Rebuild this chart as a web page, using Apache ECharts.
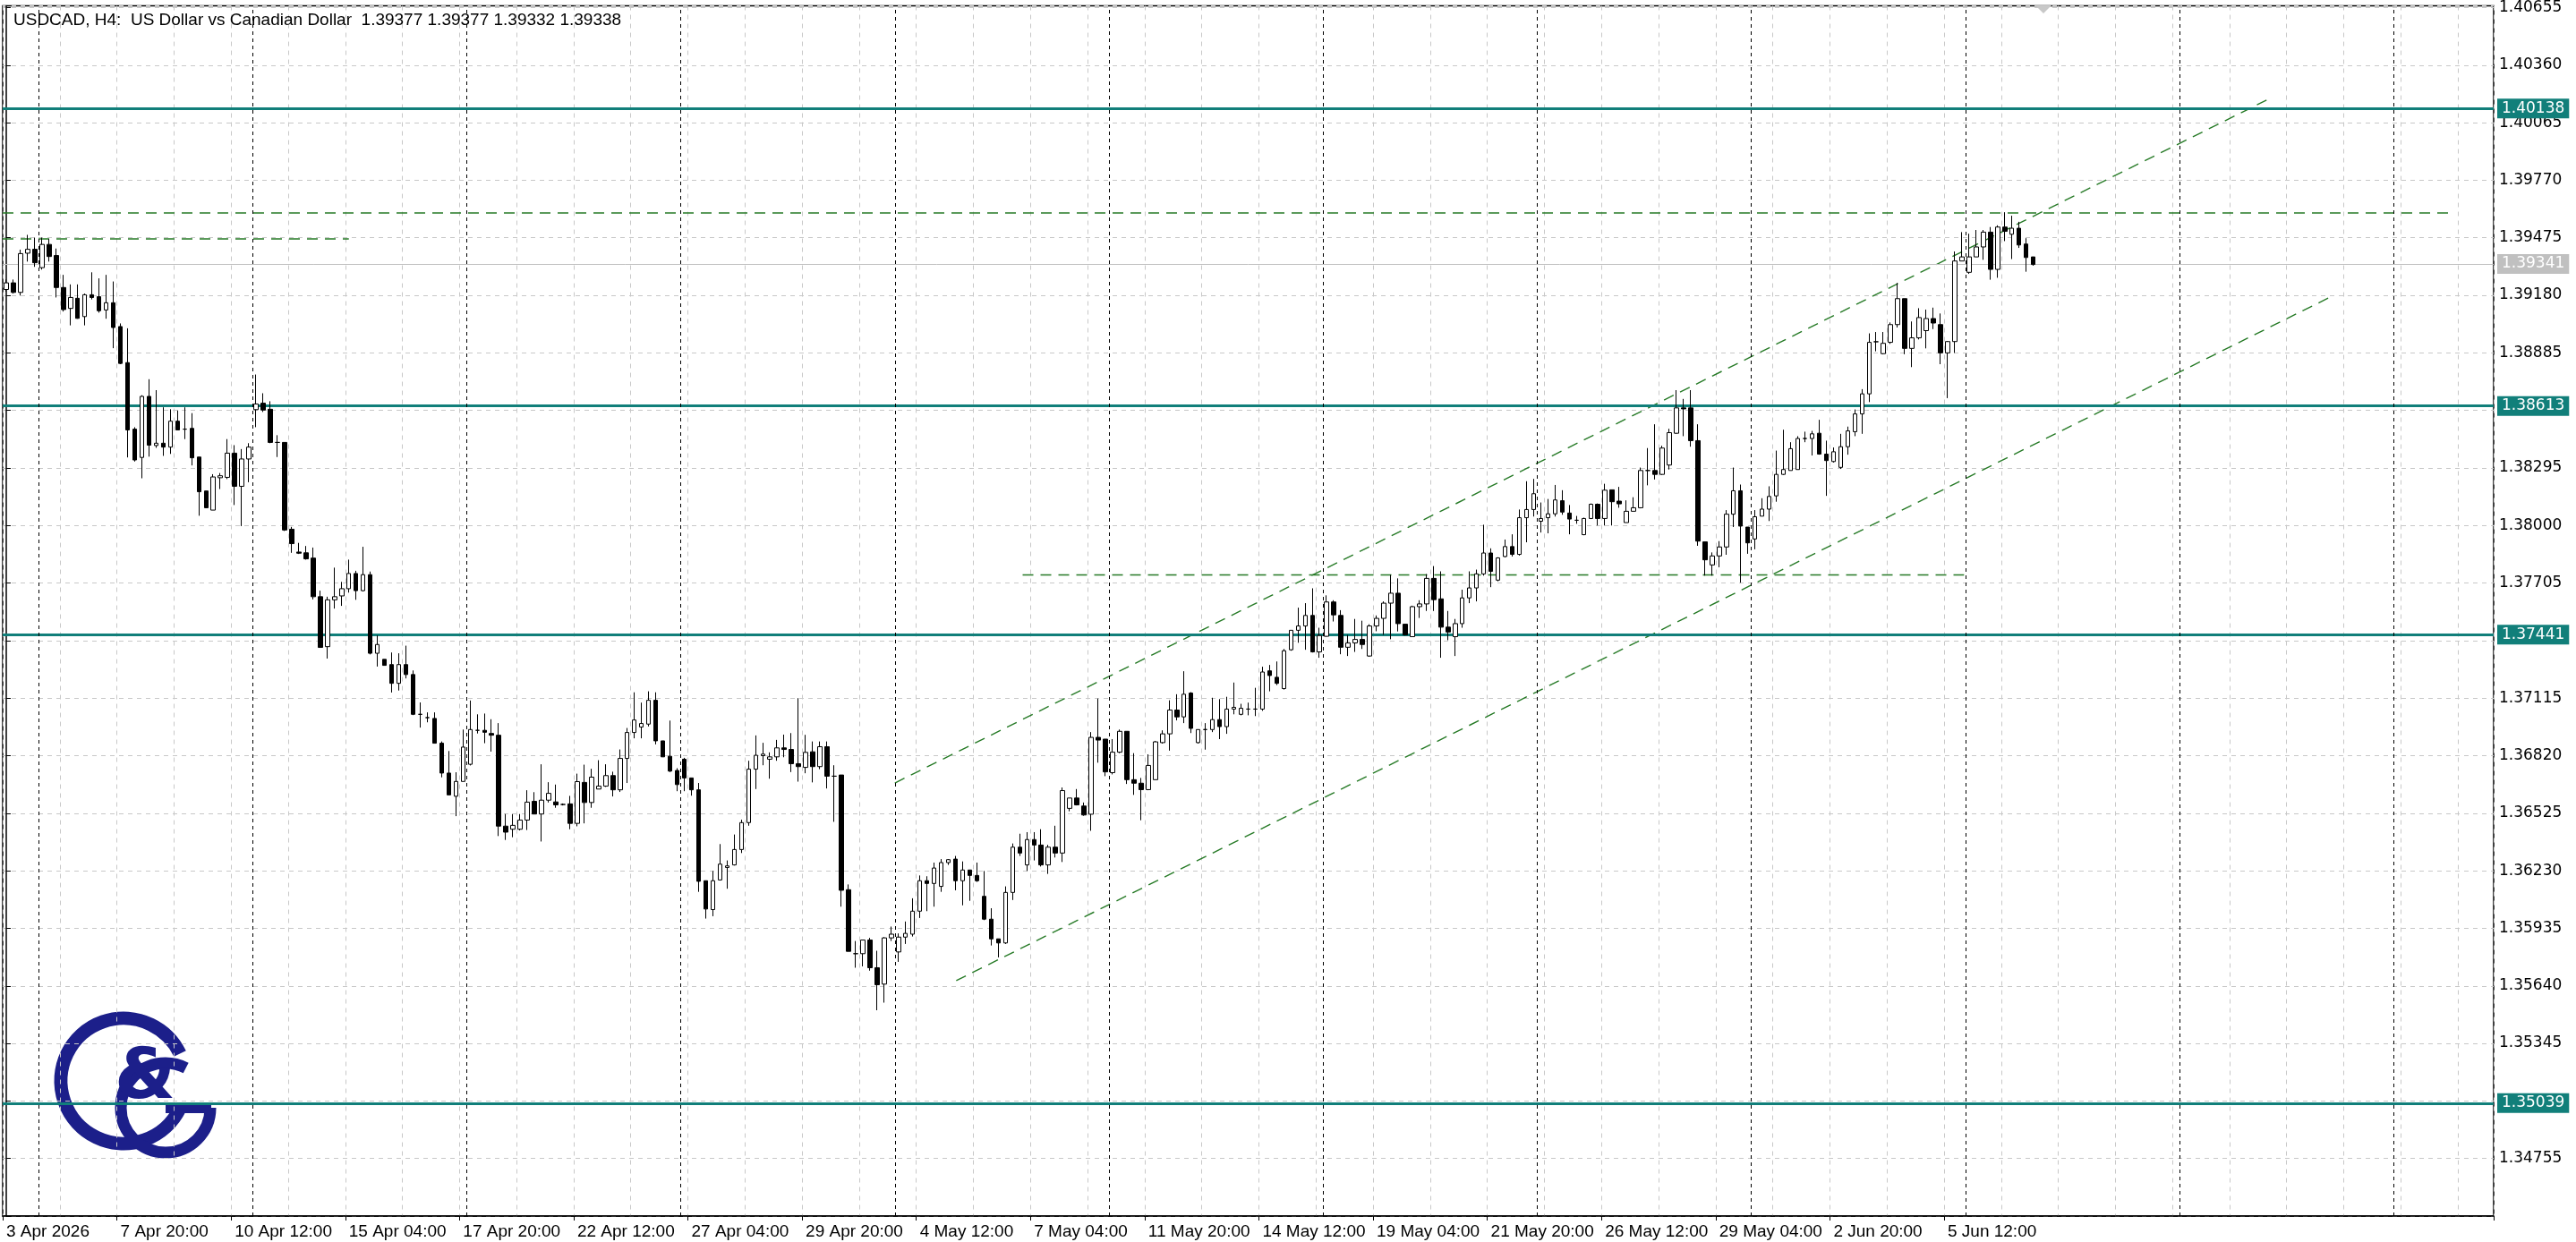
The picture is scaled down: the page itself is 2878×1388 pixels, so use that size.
<!DOCTYPE html>
<html>
<head>
<meta charset="utf-8">
<script src="https://cdn.jsdelivr.net/npm/echarts@6/dist/echarts.min.js"></script>
<style>
html,body{margin:0;padding:0;background:#fff;}
#chart{width:2878px;height:1388px;}
</style>
</head>
<body>
<div id="chart"></div>
<script>
// USDCAD H4 candles, [open, close, low, high]
var barsA = [
[1.39210,1.39244,1.39199,1.39261],[1.39244,1.39195,1.39189,1.39261],[1.39195,1.39394,1.39179,1.39414],[1.39396,1.39416,1.39353,1.39490],
[1.39416,1.39347,1.39326,1.39476],[1.39322,1.39441,1.39312,1.39476],[1.39441,1.39379,1.39353,1.39469],[1.39384,1.39220,1.39169,1.39420],
[1.39220,1.39107,1.39097,1.39285],[1.39113,1.39169,1.39026,1.39236],[1.39165,1.39062,1.39060,1.39236],[1.39071,1.39183,1.39026,1.39189],
[1.39183,1.39169,1.39159,1.39298],[1.39173,1.39101,1.39091,1.39267],[1.39105,1.39142,1.39060,1.39285],[1.39142,1.39015,1.38909,1.39251],
[1.39020,1.38831,1.38827,1.39036],[1.38835,1.38490,1.38349,1.39011],[1.38494,1.38336,1.38328,1.38504],[1.38349,1.38662,1.38242,1.38668],
[1.38662,1.38412,1.38353,1.38750],[1.38410,1.38422,1.38398,1.38694],[1.38422,1.38402,1.38357,1.38606],[1.38402,1.38535,1.38367,1.38596],
[1.38535,1.38490,1.38490,1.38590],[1.38494,1.38494,1.38443,1.38606],[1.38498,1.38347,1.38308,1.38576],[1.38351,1.38173,1.38050,1.38351],
[1.38177,1.38091,1.38091,1.38177],[1.38079,1.38249,1.38079,1.38263],[1.38245,1.38255,1.38187,1.38269],[1.38247,1.38371,1.38238,1.38443],
[1.38371,1.38201,1.38105,1.38412],[1.38201,1.38341,1.37997,1.38392],[1.38341,1.38402,1.38222,1.38422],[1.38594,1.38623,1.38504,1.38774],
[1.38627,1.38592,1.38582,1.38678],[1.38596,1.38426,1.38422,1.38637],[1.38426,1.38426,1.38351,1.38463],[1.38426,1.37977,1.37972,1.38426],
[1.37981,1.37907,1.37860,1.37993],[1.37864,1.37858,1.37854,1.37911],[1.37860,1.37829,1.37825,1.37895],[1.37833,1.37635,1.37621,1.37887],
[1.37635,1.37375,1.37375,1.37666],[1.37379,1.37619,1.37318,1.37635],[1.37619,1.37635,1.37574,1.37784],[1.37639,1.37676,1.37588,1.37711],
[1.37676,1.37754,1.37656,1.37825],[1.37754,1.37666,1.37619,1.37768],[1.37666,1.37748,1.37662,1.37891],[1.37748,1.37345,1.37339,1.37764],
[1.37345,1.37390,1.37277,1.37437],[1.37314,1.37283,1.37283,1.37314],[1.37287,1.37191,1.37144,1.37349],[1.37191,1.37287,1.37154,1.37345],
[1.37287,1.37236,1.37216,1.37384],[1.37236,1.37032,1.37028,1.37257],[1.37032,1.37032,1.36964,1.37093],[1.37015,1.37015,1.36991,1.37042],
[1.37011,1.36884,1.36884,1.37042],[1.36884,1.36731,1.36709,1.36893],[1.36731,1.36619,1.36619,1.36844],[1.36612,1.36688,1.36510,1.36735],
[1.36688,1.36864,1.36688,1.36954],[1.36776,1.36954,1.36770,1.37103],[1.36950,1.36950,1.36934,1.37032],[1.36950,1.36940,1.36884,1.37036],
[1.36934,1.36925,1.36841,1.37007],[1.36925,1.36459,1.36408,1.36987],[1.36459,1.36428,1.36388,1.36521],[1.36443,1.36463,1.36402,1.36521],
[1.36443,1.36490,1.36437,1.36521],[1.36490,1.36582,1.36439,1.36643],[1.36586,1.36521,1.36521,1.36633],[1.36521,1.36592,1.36380,1.36776]
];
var barsB = [
[1.36592,1.36627,1.36580,1.36684],[1.36583,1.36568,1.36553,1.36672],[1.36570,1.36570,1.36565,1.36575],[1.36573,1.36473,1.36443,1.36614],
[1.36473,1.36687,1.36458,1.36728],[1.36683,1.36580,1.36473,1.36774],[1.36580,1.36710,1.36553,1.36753],[1.36649,1.36664,1.36649,1.36797],
[1.36664,1.36718,1.36660,1.36776],[1.36718,1.36645,1.36611,1.36738],[1.36645,1.36806,1.36634,1.36852],[1.36806,1.36939,1.36680,1.36962],
[1.36939,1.37003,1.36909,1.37145],[1.36967,1.36985,1.36909,1.37092],[1.36982,1.37104,1.36970,1.37150],[1.37104,1.36896,1.36878,1.37145],
[1.36896,1.36814,1.36814,1.36896],[1.36817,1.36741,1.36736,1.37000],[1.36744,1.36672,1.36638,1.36756],[1.36802,1.36706,1.36638,1.36809],
[1.36706,1.36645,1.36615,1.36706],[1.36645,1.36176,1.36122,1.36680],[1.36179,1.36034,1.35985,1.36179],[1.36031,1.36179,1.35997,1.36229],
[1.36183,1.36264,1.36180,1.36367],[1.36247,1.36255,1.36138,1.36283],[1.36260,1.36339,1.36257,1.36416],[1.36339,1.36477,1.36321,1.36492],
[1.36477,1.36751,1.36461,1.36794],[1.36751,1.36822,1.36649,1.36924],[1.36820,1.36828,1.36771,1.36886],[1.36802,1.36814,1.36702,1.36837],
[1.36814,1.36860,1.36794,1.36901],[1.36860,1.36852,1.36812,1.36928],[1.36852,1.36779,1.36736,1.36936],[1.36779,1.36764,1.36687,1.37115],
[1.36760,1.36837,1.36730,1.36927],[1.36840,1.36764,1.36683,1.36893],[1.36764,1.36866,1.36751,1.36893],[1.36866,1.36715,1.36652,1.36893],
[1.36715,1.36715,1.36481,1.36771],[1.36721,1.36130,1.36046,1.36721],[1.36133,1.35817,1.35817,1.36160],[1.35805,1.35805,1.35733,1.35870],
[1.35805,1.35875,1.35740,1.35875],[1.35875,1.35733,1.35718,1.35886],[1.35733,1.35646,1.35515,1.35820],[1.35649,1.35886,1.35554,1.35890],
[1.35886,1.35905,1.35870,1.35944],[1.35814,1.35890,1.35763,1.35909],[1.35890,1.35909,1.35855,1.35970],[1.35905,1.36023,1.35893,1.36089],
[1.36023,1.36179,1.35988,1.36206],[1.36179,1.36165,1.36023,1.36202],[1.36165,1.36244,1.36046,1.36272],[1.36150,1.36272,1.36122,1.36290],
[1.36272,1.36287,1.36260,1.36290],[1.36290,1.36179,1.36130,1.36306],[1.36179,1.36234,1.36053,1.36278],[1.36234,1.36206,1.36076,1.36234],
[1.36206,1.36179,1.36173,1.36272],[1.36099,1.35982,1.35977,1.36229],[1.35982,1.35881,1.35847,1.36038],[1.35881,1.35860,1.35786,1.35881],
[1.35860,1.36119,1.35855,1.36150],[1.36119,1.36351,1.36080,1.36370],[1.36351,1.36321,1.36306,1.36420],[1.36260,1.36390,1.36229,1.36428],
[1.36390,1.36362,1.36283,1.36428],[1.36362,1.36260,1.36252,1.36443],[1.36260,1.36351,1.36214,1.36363],[1.36351,1.36321,1.36298,1.36461],
[1.36321,1.36641,1.36275,1.36657],[1.36550,1.36603,1.36535,1.36603],[1.36603,1.36568,1.36565,1.36649],[1.36562,1.36516,1.36512,1.36580]
];
var barsC = [
[1.36520,1.36914,1.36435,1.36941],[1.36914,1.36900,1.36784,1.37113],[1.36905,1.36737,1.36715,1.36905],[1.36733,1.36838,1.36724,1.36905],
[1.36838,1.36945,1.36833,1.36954],[1.36945,1.36697,1.36675,1.36945],[1.36697,1.36679,1.36619,1.36833],[1.36679,1.36646,1.36489,1.36706],
[1.36646,1.36770,1.36643,1.36827],[1.36697,1.36891,1.36697,1.36896],[1.36887,1.36932,1.36882,1.36950],[1.36932,1.37054,1.36846,1.37104],
[1.37054,1.37019,1.37001,1.37135],[1.37019,1.37135,1.36987,1.37253],[1.37141,1.36960,1.36936,1.37146],[1.36887,1.36954,1.36882,1.36954],
[1.36954,1.36954,1.36851,1.36987],[1.36954,1.37005,1.36941,1.37117],[1.37005,1.36969,1.36905,1.37110],[1.36969,1.37059,1.36932,1.37122],
[1.37059,1.37068,1.37032,1.37195],[1.37032,1.37063,1.37027,1.37086],[1.37059,1.37059,1.37027,1.37092],[1.37059,1.37059,1.37023,1.37168],
[1.37059,1.37249,1.37050,1.37276],[1.37255,1.37231,1.37150,1.37285],[1.37222,1.37191,1.37182,1.37303],[1.37164,1.37358,1.37159,1.37367],
[1.37363,1.37463,1.37358,1.37463],[1.37463,1.37485,1.37399,1.37579],[1.37485,1.37539,1.37363,1.37602],[1.37539,1.37352,1.37349,1.37678],
[1.37352,1.37436,1.37322,1.37476],[1.37432,1.37608,1.37430,1.37642],[1.37608,1.37542,1.37508,1.37617],[1.37539,1.37376,1.37340,1.37566],
[1.37376,1.37398,1.37331,1.37439],[1.37398,1.37416,1.37352,1.37521],[1.37416,1.37390,1.37367,1.37512],[1.37331,1.37485,1.37327,1.37494],
[1.37485,1.37524,1.37458,1.37539],[1.37524,1.37602,1.37439,1.37611],[1.37602,1.37653,1.37417,1.37747],[1.37653,1.37497,1.37457,1.37729],
[1.37494,1.37439,1.37436,1.37494],[1.37430,1.37584,1.37430,1.37589],[1.37584,1.37598,1.37526,1.37617],[1.37598,1.37729,1.37562,1.37751],
[1.37729,1.37620,1.37562,1.37792],[1.37624,1.37479,1.37322,1.37765],[1.37479,1.37454,1.37412,1.37562],[1.37430,1.37497,1.37331,1.37521],
[1.37497,1.37629,1.37476,1.37671],[1.37629,1.37680,1.37602,1.37765],[1.37680,1.37752,1.37611,1.37774],[1.37752,1.37859,1.37743,1.38004],
[1.37859,1.37765,1.37684,1.37883],[1.37720,1.37834,1.37714,1.37837],[1.37841,1.37892,1.37837,1.37928],[1.37892,1.37852,1.37841,1.37955],
[1.37852,1.38040,1.37846,1.38082],[1.38040,1.38082,1.37914,1.38227],[1.38082,1.38163,1.38046,1.38239],[1.38022,1.38036,1.37964,1.38118],
[1.38040,1.38060,1.37960,1.38136],[1.38060,1.38131,1.38046,1.38208],[1.38127,1.38069,1.38055,1.38181],[1.38064,1.38033,1.37955,1.38105],
[1.38027,1.38027,1.38009,1.38049],[1.37953,1.38036,1.37950,1.38040],[1.38036,1.38109,1.38033,1.38113],[1.38109,1.38036,1.38000,1.38113],
[1.38036,1.38181,1.38000,1.38214]
];
var barsD = [
[1.38183,1.38122,1.38000,1.38183],[1.38125,1.38111,1.38091,1.38198],[1.38015,1.38073,1.38015,1.38129],[1.38073,1.38091,1.38073,1.38145],
[1.38091,1.38282,1.38088,1.38297],[1.38282,1.38282,1.38206,1.38397],[1.38282,1.38262,1.38236,1.38519],[1.38262,1.38397,1.38259,1.38409],
[1.38310,1.38476,1.38287,1.38496],[1.38473,1.38603,1.38470,1.38694],[1.38603,1.38598,1.38458,1.38649],[1.38603,1.38435,1.38404,1.38694],
[1.38435,1.37920,1.37896,1.38519],[1.37916,1.37824,1.37743,1.37916],[1.37798,1.37844,1.37743,1.37862],[1.37844,1.37890,1.37786,1.37920],
[1.37890,1.38058,1.37850,1.38079],[1.38058,1.38178,1.37992,1.38297],[1.38178,1.37997,1.37707,1.38210],[1.37992,1.37911,1.37855,1.37992],
[1.37931,1.38045,1.37878,1.38079],[1.38048,1.38084,1.38048,1.38140],[1.38084,1.38149,1.38023,1.38201],[1.38152,1.38262,1.38122,1.38384],
[1.38262,1.38287,1.38259,1.38491],[1.38282,1.38394,1.38282,1.38427],[1.38287,1.38446,1.38287,1.38458],[1.38446,1.38446,1.38427,1.38481],
[1.38446,1.38470,1.38359,1.38485],[1.38473,1.38366,1.38363,1.38542],[1.38366,1.38333,1.38152,1.38435],[1.38328,1.38378,1.38323,1.38400],
[1.38298,1.38404,1.38290,1.38470],[1.38404,1.38485,1.38363,1.38507],[1.38481,1.38572,1.38458,1.38595],[1.38572,1.38675,1.38470,1.38699],
[1.38675,1.38939,1.38633,1.38985],[1.38942,1.38942,1.38893,1.38992],[1.38881,1.38934,1.38878,1.38992],[1.38939,1.39030,1.38931,1.39041],
[1.39030,1.39163,1.39015,1.39244],[1.39163,1.38908,1.38878,1.39163],[1.38908,1.38962,1.38812,1.39046],[1.38962,1.39066,1.38954,1.39114],
[1.38999,1.39061,1.38908,1.39107],[1.39061,1.39038,1.39007,1.39117],[1.39030,1.38885,1.38827,1.39087],[1.38885,1.38943,1.38653,1.38946],
[1.38943,1.39356,1.38885,1.39405],[1.39356,1.39377,1.39356,1.39504],[1.39298,1.39377,1.39290,1.39496],[1.39377,1.39428,1.39377,1.39515],
[1.39428,1.39504,1.39362,1.39515],[1.39504,1.39313,1.39260,1.39530],[1.39313,1.39530,1.39270,1.39539],[1.39530,1.39508,1.39458,1.39606],
[1.39493,1.39524,1.39366,1.39588],[1.39524,1.39438,1.39423,1.39557],[1.39443,1.39374,1.39301,1.39473],[1.39377,1.39338,1.39332,1.39377]
];

var timeLabels = ['3 Apr 2026','7 Apr 20:00','10 Apr 12:00','15 Apr 04:00','17 Apr 20:00','22 Apr 12:00',
  '27 Apr 04:00','29 Apr 20:00','4 May 12:00','7 May 04:00','11 May 20:00','14 May 12:00',
  '19 May 04:00','21 May 20:00','26 May 12:00','29 May 04:00','2 Jun 20:00','5 Jun 12:00'];
var labelEvery = 16;     // bars between time labels
var slotCount = 349;     // visible bar slots incl. empty right margin

var levels = [1.40138, 1.38613, 1.37441, 1.35039];
var bidPrice = 1.39341;
var weekStarts = [4.5, 34.5, 64.5, 94.5, 124.5, 154.5, 184.5, 214.5, 244.5, 274.5, 304.5, 334.5];

// trend objects: [barIndex, price]
var channelUpper = [[124.5, 1.36680], [316.8, 1.40183]];
var channelLower = [[133.1, 1.35667], [325.6, 1.39171]];
var highLine = [[-0.5, 1.39602], [342.2, 1.39602]];
var oldHighLine = [[-0.5, 1.39469], [48.0, 1.39469]];
var supportLine = [[142.4, 1.37747], [274.3, 1.37747]];

var yMin = 1.34460, yMax = 1.40664, yStep = 0.00295;

var candles = barsA.concat(barsB, barsC, barsD);
var cats = [];
for (var i = 0; i < slotCount; i++) {
  var k = i / labelEvery;
  cats.push(i % labelEvery === 0 && k < timeLabels.length ? timeLabels[k] : '');
}

var teal = '#117f7a';
var green = '#267a26';
var font = 'DejaVu Sans';

function dashed(data) {
  return {
    type: 'line', xAxisIndex: 1, data: data, symbol: 'none', silent: true,
    lineStyle: { color: green, width: 1.4, type: [12, 8] }, z: 4
  };
}
function priceTag(v, lineColor, width, bg) {
  return {
    yAxis: v,
    lineStyle: { color: lineColor, width: width, type: 'solid' },
    label: { show: true, position: 'end', distance: 4, formatter: v.toFixed(5), color: '#fff', backgroundColor: bg, padding: [3, 5, 2, 5], fontFamily: font, fontSize: 17 }
  };
}

var chart = echarts.init(document.getElementById('chart'));
var option = {
  backgroundColor: '#fff',
  animation: false,
  title: {
    text: 'USDCAD, H4:  US Dollar vs Canadian Dollar  1.39377 1.39377 1.39332 1.39338',
    left: 10, top: 8,
    textStyle: { fontFamily: 'Liberation Sans', fontWeight: 'normal', fontSize: 19, color: '#000' }
  },
  grid: { left: 3, right: 92, top: 5, bottom: 29, show: true, borderColor: '#000', borderWidth: 1.5 },
  xAxis: [{
    type: 'category', data: cats, boundaryGap: true,
    axisLine: { lineStyle: { color: '#000', width: 1.5 } },
    axisTick: { show: true, length: 5, interval: function (i) { return i % labelEvery === 0 && i / labelEvery < timeLabels.length; }, lineStyle: { color: '#000' } },
    axisLabel: { interval: 0, align: 'left', margin: 8, fontFamily: 'Liberation Sans Narrow, Liberation Sans', fontSize: 19, color: '#000' },
    splitLine: { show: true, interval: function (i) { return i % 8 === 0; }, lineStyle: { color: '#c8c8c8', type: [5, 5] } }
  }, {
    type: 'value', min: -0.5, max: slotCount - 0.5, show: false
  }],
  yAxis: {
    type: 'value', position: 'right', min: yMin, max: yMax, interval: yStep, scale: true,
    axisLine: { show: true, lineStyle: { color: '#000', width: 1.5 } },
    axisTick: { show: true, length: 5, lineStyle: { color: '#000' } },
    axisLabel: {
      margin: 6, fontFamily: font, fontSize: 17, color: '#000',
      formatter: function (v) {
        var n = (v - yMin) / yStep;
        if (n < 0.5 || Math.abs(n - Math.round(n)) > 0.02) return '';
        return v.toFixed(5);
      }
    },
    splitLine: { show: true, lineStyle: { color: '#c8c8c8', type: [5, 5] } }
  },
  series: [{
    type: 'candlestick', data: candles, barWidth: 5,
    itemStyle: { color: '#fff', color0: '#000', borderColor: '#000', borderColor0: '#000', borderWidth: 1 },
    z: 5
  }, {
    type: 'line', xAxisIndex: 1, data: [], silent: true, z: 3,
    markLine: {
      silent: true, symbol: 'none', animation: false, precision: 5,
      data: levels.map(function (v) { return priceTag(v, teal, 3, teal); })
        .concat([priceTag(bidPrice, '#c0c0c0', 1, '#c0c0c0')])
    }
  }, {
    type: 'line', xAxisIndex: 1, data: [], silent: true,
    markLine: {
      silent: true, symbol: 'none', animation: false, precision: 2, label: { show: false },
      lineStyle: { color: '#000', width: 1, type: [4, 4] },
      data: weekStarts.map(function (x) { return { xAxis: x }; })
    }
  },
    dashed(channelUpper), dashed(channelLower), dashed(highLine), dashed(oldHighLine), dashed(supportLine)
  ],
  graphic: [
    { type: 'polygon', shape: { points: [[2274, 6], [2292, 6], [2283, 15]] }, style: { fill: '#c8c8c8' } },
    { type: 'arc', shape: { cx: 138, cy: 1208, r: 70, startAngle: 0.45, endAngle: Math.PI * 2 - 0.45 }, style: { stroke: '#1c1f8a', lineWidth: 15, fill: null } },
    { type: 'arc', shape: { cx: 185, cy: 1238, r: 50, startAngle: 0, endAngle: Math.PI * 1.65 }, style: { stroke: '#1c1f8a', lineWidth: 13, fill: null } },
    { type: 'line', shape: { x1: 185, y1: 1238, x2: 236, y2: 1238 }, style: { stroke: '#1c1f8a', lineWidth: 12 } },
    { type: 'text', left: 128, top: 1168, style: { text: '&', font: 'bold 78px DejaVu Sans', fill: '#1c1f8a' } }
  ]
};
chart.setOption(option);
window.onresize = chart.resize;
</script>
</body>
</html>
